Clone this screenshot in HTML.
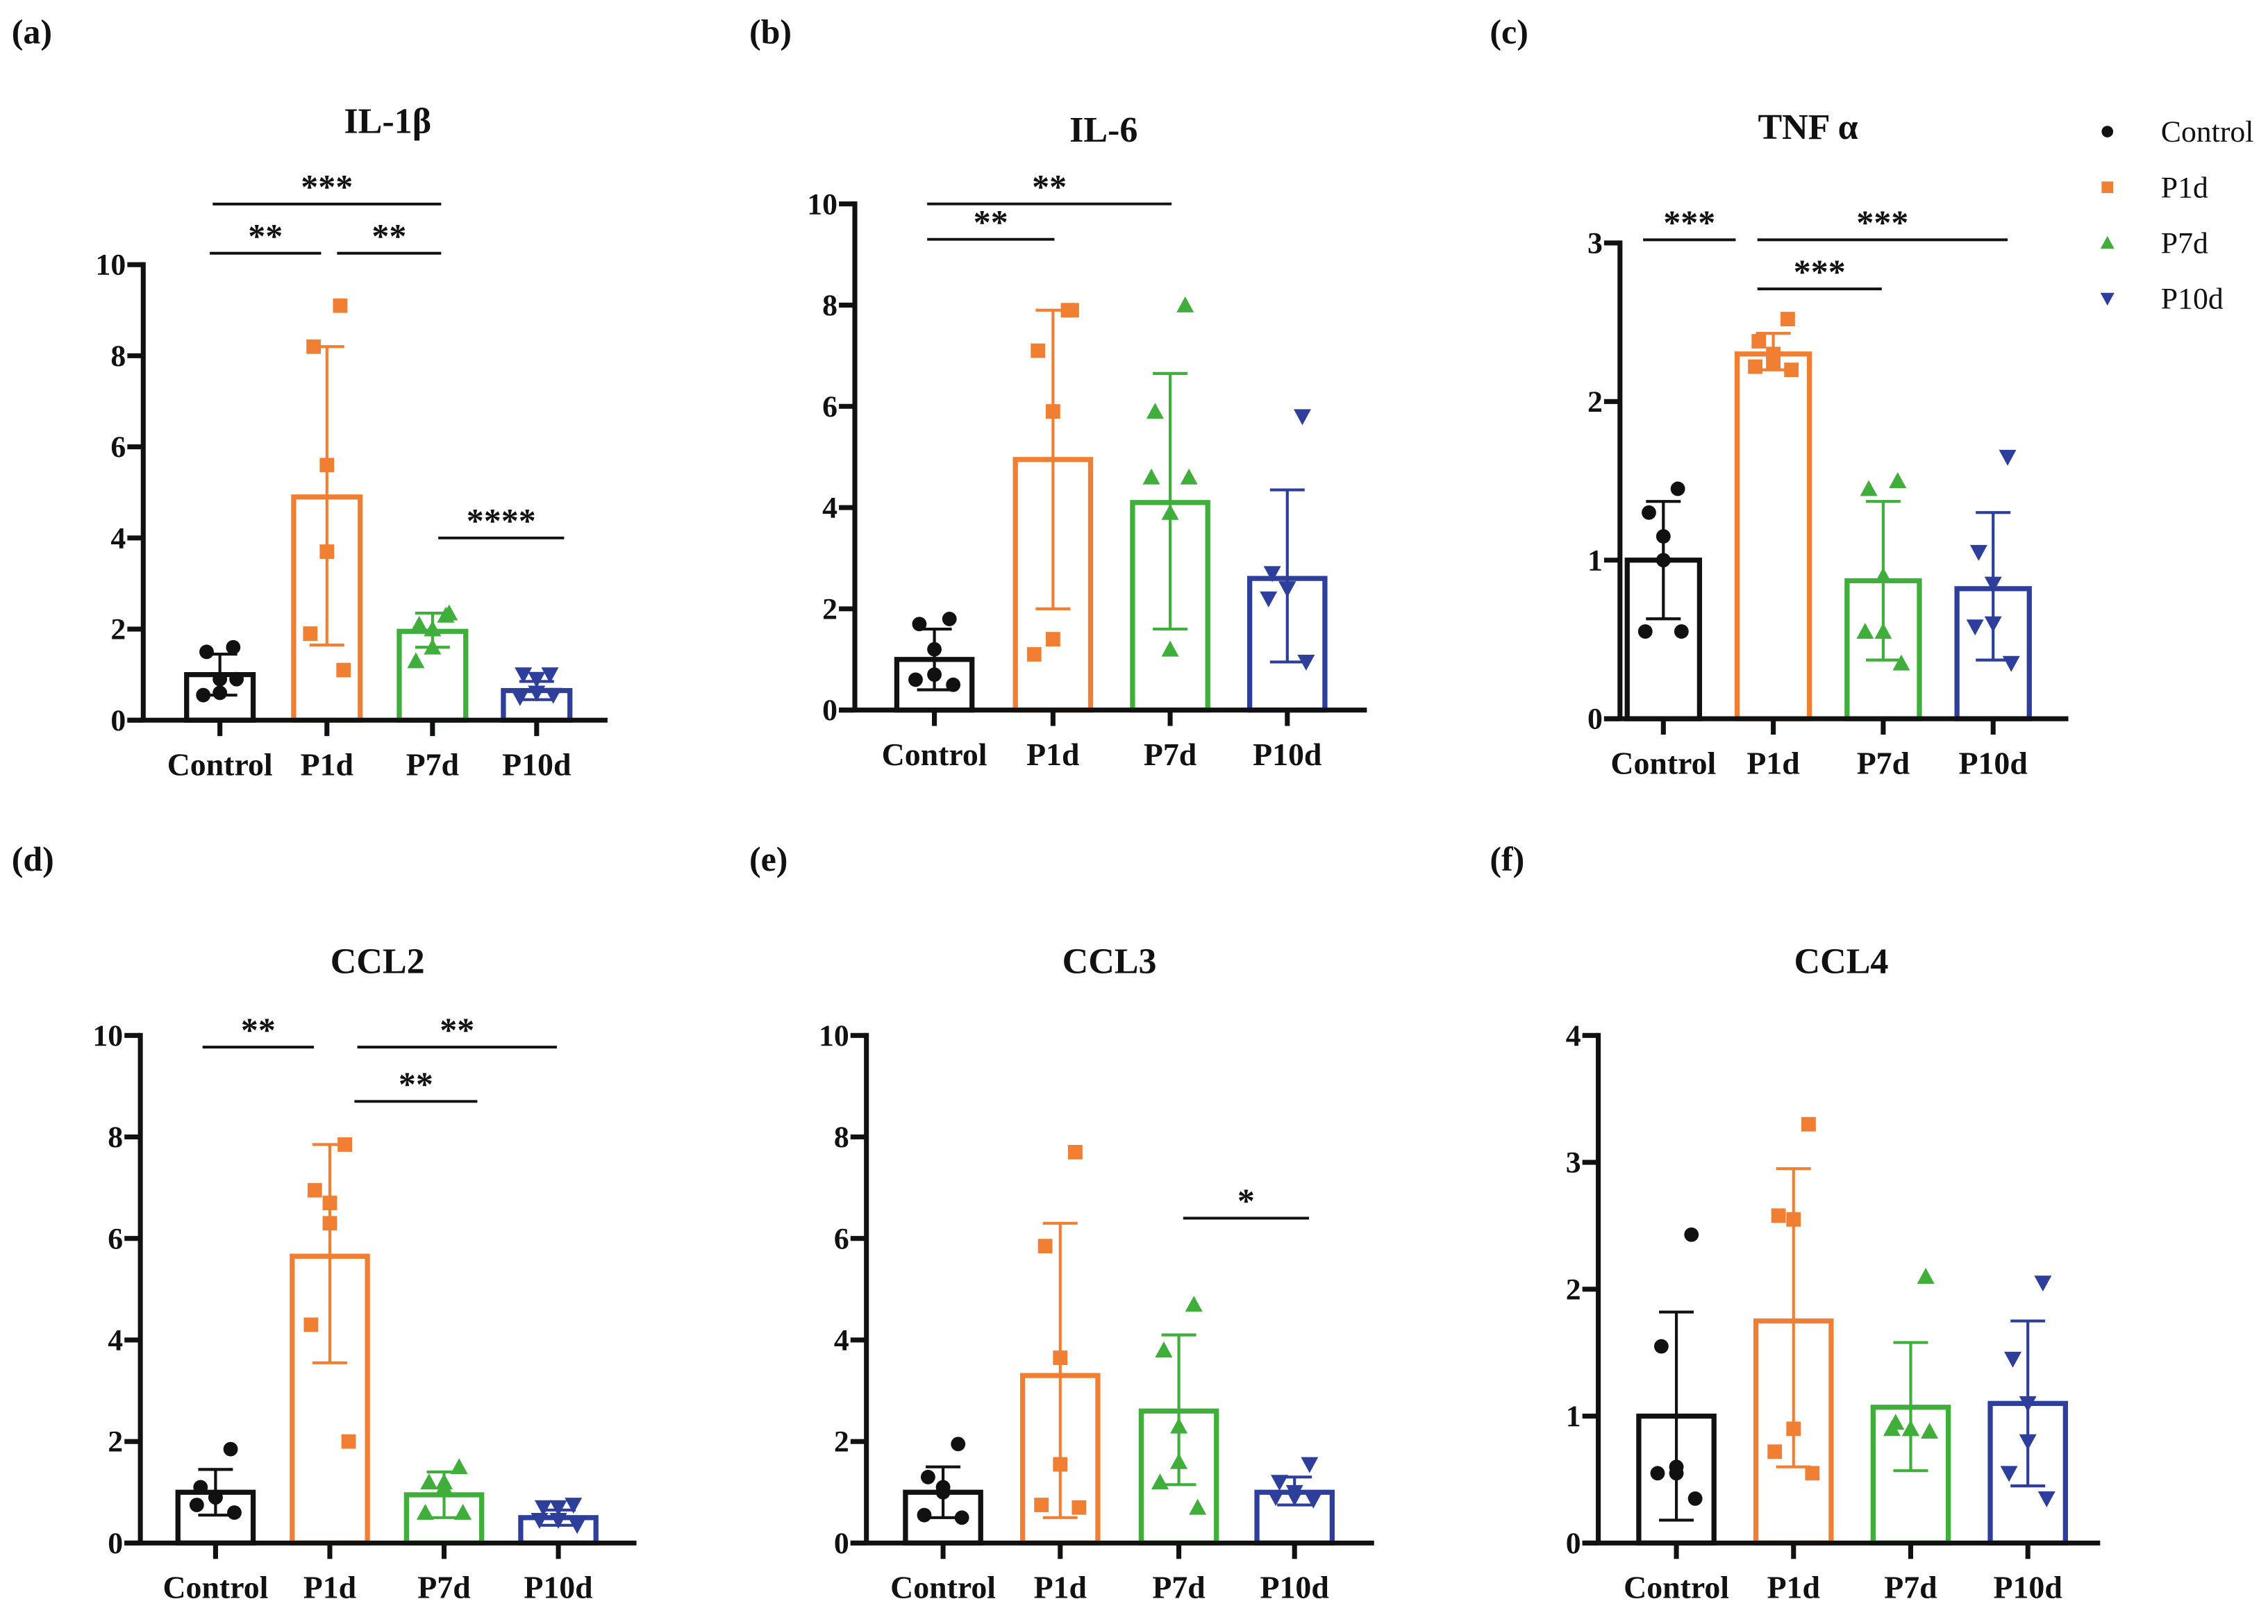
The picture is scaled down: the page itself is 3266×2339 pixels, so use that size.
<!DOCTYPE html>
<html><head><meta charset="utf-8"><style>
html,body{margin:0;padding:0;background:#fff}
svg{display:block}
text{font-family:"Liberation Serif",serif;font-weight:bold;fill:#111}
</style></head><body>
<svg id="fig" xmlns="http://www.w3.org/2000/svg" width="3266" height="2339" viewBox="0 0 1568 1123"></svg>
<script>
const categories = ["Control","P1d","P7d","P10d"];
const colors = ["#111111","#f07f33","#3fae3a","#2e3f9b"];
const titles = ["IL-1β","IL-6","TNF α","CCL2","CCL3","CCL4"];
const panelLetters = ["(a)","(b)","(c)","(d)","(e)","(f)"];
const yMaxes = [10,10,3,10,10,4];
const yTickSteps = [2,2,1,2,2,1];
const means = [[1.0,4.9,1.95,0.65],[1.0,4.95,4.1,2.6],[1.0,2.3,0.87,0.82],[1.0,5.65,0.95,0.5],[1.0,3.3,2.6,1.0],[1.0,1.75,1.07,1.1]];
const errLow = [[0.55,1.65,1.6,0.45],[0.4,2.0,1.6,0.95],[0.63,2.2,0.37,0.37],[0.55,3.55,0.5,0.35],[0.5,0.5,1.15,0.75],[0.18,0.6,0.57,0.45]];
const errHigh = [[1.45,8.2,2.35,0.85],[1.6,7.9,6.65,4.35],[1.37,2.43,1.37,1.3],[1.45,7.85,1.4,0.65],[1.5,6.3,4.1,1.3],[1.82,2.95,1.58,1.75]];
const points = [
 [[1.6,1.5,0.9,0.6,0.55,0.9],[9.1,8.2,5.6,3.7,1.9,1.1],[2.3,2.1,2.0,1.6,1.3,2.35],[1.0,1.0,0.9,0.6,0.5,0.55]],
 [[1.8,1.7,1.2,0.7,0.6,0.5],[7.9,7.1,5.9,1.4,1.1,7.9],[8.0,5.9,3.9,1.2,4.6,4.6],[5.8,2.7,2.4,2.4,2.2,0.95]],
 [[1.45,1.3,1.15,1.0,0.55,0.55],[2.52,2.38,2.3,2.25,2.22,2.2],[1.5,1.45,0.9,0.55,0.55,0.35],[1.65,1.05,0.85,0.6,0.58,0.35]],
 [[1.85,1.1,0.9,0.9,0.75,0.6],[7.85,6.95,6.7,6.3,4.3,2.0],[1.5,1.2,1.2,1.1,0.6,0.6],[0.75,0.7,0.7,0.45,0.45,0.35]],
 [[1.95,1.3,1.1,1.0,0.55,0.5],[7.7,5.85,3.65,1.55,0.75,0.7],[4.7,3.8,2.3,1.6,1.2,0.7],[1.55,1.2,1.0,0.9,0.9,0.85]],
 [[2.43,1.55,0.6,0.55,0.55,0.35],[3.3,2.58,2.55,0.9,0.72,0.55],[2.1,0.95,0.9,0.9,0.9,0.88],[2.05,1.45,1.1,0.8,0.55,0.35]]
];
// significance: [fromGroup, toGroup, label, value-level]
const sigs = [
 [[0,2,"***",11.33],[0,1,"**",10.25],[1,2,"**",10.25],[2,3,"****",4.0]],
 [[0,2,"**",10.0],[0,1,"**",9.3]],
 [[0,1,"***",3.02],[1,3,"***",3.02],[1,2,"***",2.71]],
 [[0,1,"**",9.77],[1,3,"**",9.77],[1,2,"**",8.7]],
 [[2,3,"*",6.4]],
 []
];
// layout geometry (pixel offsets for significance line ends: [leftOffset,rightOffset])
const sigOffsets = [
 [[-5,6],[-7,-4],[7,6],[4,19]],
 [[-5,1],[-5,1]],
 [[-14,-26],[-11,10],[-11,-1]],
 [[-9,-11],[19,-1],[17,23]],
 [[3,10]],
 []
];
const L = [
 {ax:99,y0:498,yt:183,xe:420,cx:[152,226,299,371],bw:46,tx:268,ty:92,lx:8,ly:30},
 {ax:591,y0:491,yt:141,xe:945,cx:[646,728,809,890],bw:52,tx:763,ty:98,lx:518,ly:30},
 {ax:1120,y0:497,yt:168,xe:1430,cx:[1150,1226,1302,1378],bw:50,tx:1250,ty:96,lx:1030,ly:30},
 {ax:97,y0:1067,yt:716,xe:440,cx:[149,228,307,386],bw:52,tx:261,ty:673,lx:8,ly:602},
 {ax:599,y0:1067,yt:716,xe:950,cx:[652,733,815,895],bw:52,tx:767,ty:673,lx:518,ly:602},
 {ax:1105,y0:1067,yt:716,xe:1452,cx:[1159,1240,1321,1402],bw:52,tx:1273,ty:673,lx:1030,ly:602}
];
const jitter = [0.4,-0.4,0,0,-0.5,0.5];
const NS="http://www.w3.org/2000/svg";
const svg=document.getElementById('fig');
function mk(tag,attrs,parent){const e=document.createElementNS(NS,tag);for(const k in attrs)e.setAttribute(k,attrs[k]);(parent||svg).appendChild(e);return e;}
function marker(g,type,x,y,c){
 if(type===0) return mk('circle',{cx:x,cy:y,r:5,fill:c},g);
 if(type===1) return mk('rect',{x:x-5,y:y-5,width:10,height:10,fill:c},g);
 if(type===2) return mk('polygon',{points:`${x},${y-6} ${x-6},${y+5} ${x+6},${y+5}`,fill:c},g);
 return mk('polygon',{points:`${x},${y+6} ${x-6},${y-5} ${x+6},${y-5}`,fill:c},g);
}
for(let p=0;p<6;p++){
 const l=L[p];
 const g=mk('g',{});
 
 
 const ys=v=>l.y0-(v/yMaxes[p])*(l.y0-l.yt);
 const t1=mk('text',{x:l.lx,y:l.ly,'font-size':24},g);t1.textContent=panelLetters[p];
 
 
 const t2=mk('text',{x:l.tx,y:l.ty,'font-size':25,'text-anchor':'middle'},g);t2.textContent=titles[p];
 
 
 for(let i=0;i<4;i++){
  const c=colors[i],x=l.cx[i],h=l.bw/2;
  const bar=mk('rect',{x:x-h,y:ys(means[p][i]),width:l.bw,height:l.y0-ys(means[p][i]),fill:'none',stroke:c,'stroke-width':3.5},g);
  
  
  const eb=mk('g',{stroke:c,'stroke-width':2},g);
  
  
  mk('line',{x1:x,x2:x,y1:ys(errLow[p][i]),y2:ys(errHigh[p][i])},eb);
  mk('line',{x1:x-12,x2:x+12,y1:ys(errLow[p][i]),y2:ys(errLow[p][i])},eb);
  mk('line',{x1:x-12,x2:x+12,y1:ys(errHigh[p][i]),y2:ys(errHigh[p][i])},eb);
  points[p][i].forEach((v,k)=>{
   const m=marker(g,i,x+jitter[k]*h,ys(v),c);
   
   
  });
 }
 const axg=mk('g',{stroke:'#111','stroke-width':3.4},g);
 
 
 mk('line',{x1:l.ax,x2:l.ax,y1:l.yt-1.7,y2:l.y0},axg);
 mk('line',{x1:l.ax-11,x2:l.xe,y1:l.y0,y2:l.y0},axg);
 for(let v=0;v<=yMaxes[p];v+=yTickSteps[p]){
  mk('line',{x1:l.ax-11,x2:l.ax,y1:ys(v),y2:ys(v)},axg);
  const tt=mk('text',{x:l.ax-12,y:ys(v)+7,'font-size':21,'text-anchor':'end'},g);tt.textContent=v;
  
  
 }
 for(let i=0;i<4;i++){
  mk('line',{x1:l.cx[i],x2:l.cx[i],y1:l.y0,y2:l.y0+11},axg);
  const ct=mk('text',{x:l.cx[i],y:l.y0+38,'font-size':22,'text-anchor':'middle'},g);ct.textContent=categories[i];
  
  
 }
 sigs[p].forEach((s,k)=>{
  const y=ys(s[3]);
  const xa=l.cx[s[0]]+sigOffsets[p][k][0], xb=l.cx[s[1]]+sigOffsets[p][k][1];
  const sl=mk('line',{x1:xa,x2:xb,y1:y,y2:y,stroke:'#111','stroke-width':1.9},g);
  
  
  const st=mk('text',{x:(xa+xb)/2,y:y-4,'font-size':24,'text-anchor':'middle'},g);st.textContent=s[2];
  
  
 });
}
const lg=mk('g',{});


categories.forEach((c,i)=>{
 const y=91+i*38.5;
 marker(lg,i,1457,y,colors[i]).setAttribute('transform',`translate(1457 ${y}) scale(0.8) translate(-1457 ${-y})`);
 const t=mk('text',{x:1494,y:y+7,'font-size':21},lg);t.textContent=c;
 t.setAttribute('style','font-weight:normal');
 
 
});
</script>
</body></html>
